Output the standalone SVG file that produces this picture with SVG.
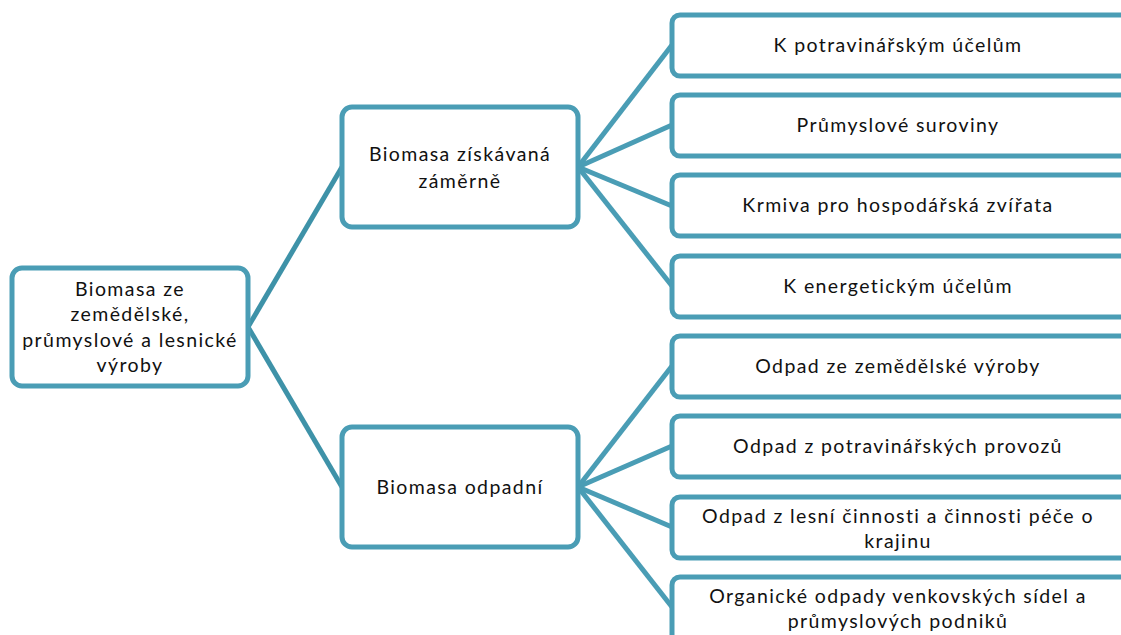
<svg xmlns="http://www.w3.org/2000/svg" width="1121" height="635" viewBox="0 0 1121 635">
<style>
.box{fill:#fff;stroke:#4a9db5;stroke-width:5}
.c{stroke:#4a9db5;stroke-width:5;fill:none}
.c0{stroke:#3e92a8;stroke-width:5;fill:none}
text{font-family:Lato,"Liberation Sans",sans-serif;font-size:19.5px;letter-spacing:1.4px;fill:#111;text-anchor:middle}
</style>
<rect width="1121" height="635" fill="#fff"/>
<g id="connectors">
<line class="c0" x1="248" y1="327" x2="342" y2="167"/>
<line class="c0" x1="248" y1="327" x2="342" y2="487"/>
<line class="c" x1="578" y1="167" x2="672" y2="45"/>
<line class="c" x1="578" y1="167" x2="672" y2="125"/>
<line class="c" x1="578" y1="167" x2="672" y2="206"/>
<line class="c" x1="578" y1="167" x2="672" y2="286"/>
<line class="c" x1="578" y1="487" x2="672" y2="366"/>
<line class="c" x1="578" y1="487" x2="672" y2="446"/>
<line class="c" x1="578" y1="487" x2="672" y2="527"/>
<line class="c" x1="578" y1="487" x2="672" y2="607"/>
</g>
<g id="root">
<rect class="box" x="12" y="268" width="236" height="118" rx="10"/>
<text x="130" y="296">Biomasa ze</text>
<text x="130" y="321">zemědělské,</text>
<text x="130" y="347">průmyslové a lesnické</text>
<text x="130" y="372">výroby</text>
</g>
<g id="n1">
<rect class="box" x="342" y="107" width="236" height="120" rx="10"/>
<text x="460" y="161">Biomasa získávaná</text>
<text x="460" y="188">záměrně</text>
</g>
<g id="n2">
<rect class="box" x="342" y="427" width="236" height="120" rx="10"/>
<text x="460" y="494">Biomasa odpadní</text>
</g>
<g id="r1"><rect class="box" x="672" y="15" width="460" height="61" rx="8"/><text x="898" y="52">K potravinářským účelům</text></g>
<g id="r2"><rect class="box" x="672" y="95" width="460" height="61" rx="8"/><text x="898" y="132">Průmyslové suroviny</text></g>
<g id="r3"><rect class="box" x="672" y="175" width="460" height="61" rx="8"/><text x="898" y="212">Krmiva pro hospodářská zvířata</text></g>
<g id="r4"><rect class="box" x="672" y="256" width="460" height="61" rx="8"/><text x="898" y="293">K energetickým účelům</text></g>
<g id="r5"><rect class="box" x="672" y="336" width="460" height="61" rx="8"/><text x="898" y="373">Odpad ze zemědělské výroby</text></g>
<g id="r6"><rect class="box" x="672" y="416" width="460" height="61" rx="8"/><text x="898" y="453">Odpad z potravinářských provozů</text></g>
<g id="r7"><rect class="box" x="672" y="497" width="460" height="61" rx="8"/><text x="898" y="523">Odpad z lesní činnosti a činnosti péče o</text><text x="898" y="548">krajinu</text></g>
<g id="r8"><rect class="box" x="672" y="577" width="460" height="80" rx="8"/><text x="898" y="603">Organické odpady venkovských sídel a</text><text x="898" y="628">průmyslových podniků</text></g>
</svg>
